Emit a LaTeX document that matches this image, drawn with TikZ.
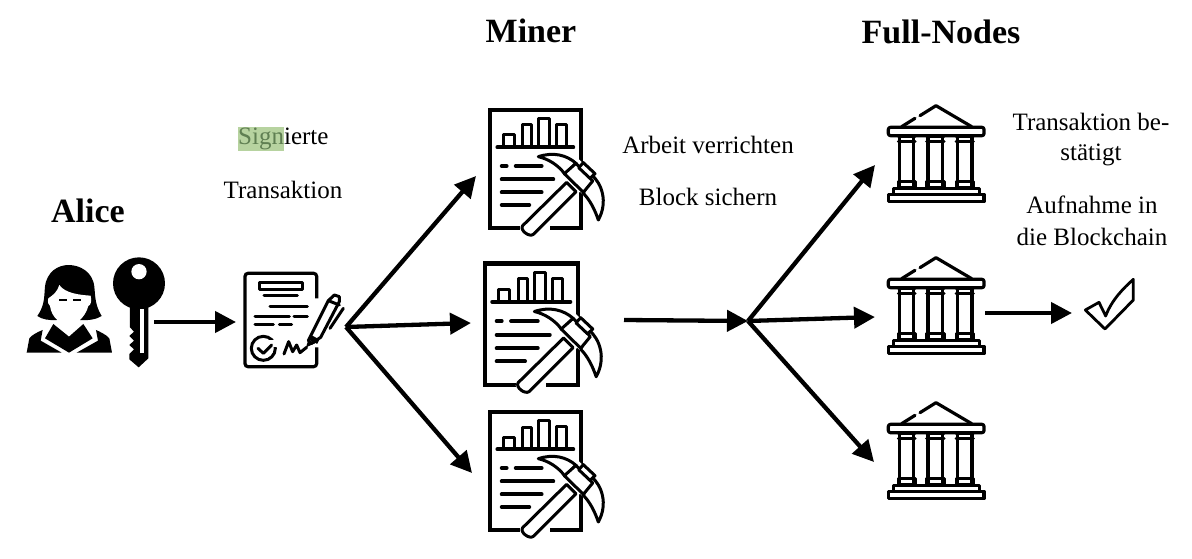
\documentclass[tikz,border=0pt]{standalone}
\usepackage{fontspec}
\setmainfont{Liberation Serif}
\usetikzlibrary{arrows.meta}
\definecolor{markgreen}{HTML}{B7D3A0}
\definecolor{marktext}{HTML}{5F7F52}
\tikzset{
  x=1pt,y=-1pt,
  flow/.style={line width=4.3pt,-{Triangle[length=21pt,width=21pt]}},
  body/.style={font=\fontsize{25}{29}\selectfont,inner sep=0pt,anchor=center},
  head/.style={font=\fontsize{34}{38}\selectfont\bfseries,inner sep=0pt,anchor=center},
  ln/.style={line width=3.8pt,line cap=round,line join=round},
  lnthin/.style={line width=3pt,line cap=round,line join=round},
  lnbank/.style={line width=3.2pt,line cap=round,line join=round},
  minericon/.pic={
    \begin{scope}[xscale=1/3,yscale=1/3]
      \draw[line width=4.2pt,line join=miter] (150,400)--(60,400)--(60,45)--(333,45)--(333,400)--(240,400);
      \draw[ln] (82,157)--(310,157);
      \draw[lnthin] (100,157)--(100,120)--(133,120)--(133,157);
      \draw[lnthin] (158,157)--(158,90)--(185,90)--(185,157);
      \draw[lnthin] (205,157)--(205,70)--(238,70)--(238,157);
      \draw[lnthin] (258,157)--(258,88)--(288,88)--(288,157);
      \draw[ln] (95,213)--(110,213) (137,213)--(215,213) (95,253)--(250,253) (95,292)--(215,292) (95,330)--(178,330);
      \fill[white] (150,400) -- (190,430) -- (400,220) -- (360,180) -- cycle;
      \fill[white] (205,165)--(300,165)--(420,290)--(395,385)--(340,300)--cycle;
      \draw[lnthin,fill=white] (158,392)--(290,262)--(318,290)--(190,418) .. controls (178,428) and (148,405) .. (158,392)--cycle;
      \draw[lnthin,fill=white] (205,185) .. controls (250,170) and (290,180) .. (318,205) -- (285,238) .. controls (265,210) and (235,192) .. (205,185) -- cycle;
      \draw[lnthin,fill=white] (385,375) .. controls (415,320) and (395,265) .. (365,240) -- (340,295) .. controls (360,315) and (375,345) .. (385,375) -- cycle;
      \draw[lnthin,fill=white] (318,205)--(368,258)--(340,292)--(283,236)--cycle;
      \draw[lnthin,fill=white] (340,203)--(375,236)--(360,250)--(326,218)--cycle;
    \end{scope}
  },
  bankicon/.pic={
    \begin{scope}[xscale=1/3,yscale=1/3]
      \draw[lnbank] (95,95)--(135,70) (150,62)--(198,32)--(305,95);
      \draw[lnbank,rounded corners=2pt] (55,97) rectangle (342,122);
      \foreach \a/\b in {85/135,170/222,258/310}{
        \draw[lnthin] (\a,125) -- (\b,125);
        \draw[lnthin] (\a,140) -- (\b,140);
        \draw[lnbank] ({\a+4},125)--({\a+4},278) ({\b-4},125)--({\b-4},278);
        \draw[lnthin] (\a,260) rectangle (\b,278);
      }
      \draw[lnbank] (70,280) rectangle (328,298);
      \draw[lnbank] (55,298) rectangle (342,320);
    \end{scope}
  },
  personicon/.pic={
    \begin{scope}[xscale=1/3,yscale=1/3]
      \fill (112,258) .. controls (135,225) and (132,200) .. (135,170) .. controls (140,125) and (175,105) .. (205,105) .. controls (240,105) and (278,125) .. (283,170) .. controls (286,200) and (285,225) .. (305,258) .. controls (290,268) and (265,272) .. (240,270) -- (170,270) .. controls (150,272) and (125,268) .. (112,258) -- cycle;
      \fill[white] (145,205) .. controls (160,195) and (172,185) .. (178,165) .. controls (195,190) and (240,195) .. (272,197) .. controls (276,215) and (272,225) .. (265,228) .. controls (255,265) and (225,285) .. (207,285) .. controls (185,285) and (155,265) .. (150,228) .. controls (143,225) and (143,215) .. (145,205) -- cycle;
      \draw[line width=1.9pt] (178,209)--(200,209) (220,209)--(243,209);
      \fill (80,368)--(88,325) .. controls (95,315) and (115,305) .. (128,300)--(122,332)--(185,368)--cycle;
      \fill (135,325)--(160,282)--(207,320)--(250,282)--(278,325)--(207,368)--cycle;
      \fill (336,368)--(328,325) .. controls (320,315) and (300,305) .. (288,300)--(294,332)--(230,368)--cycle;
    \end{scope}
  },
  keyicon/.pic={
    \begin{scope}[xscale=1/3,yscale=1/3]
      \fill (417,160) circle[radius=78];
      \fill (390,215)--(445,215)--(445,385)--(416,412)--(388,388)--(388,372)--(402,358)--(388,345)--(402,332)--(388,318)--(402,305)--(390,292)--cycle;
      \fill[white] (417,125) circle[radius=23];
      \fill[white] (421,238) rectangle (431,368);
    \end{scope}
  },
  docicon/.pic={
    \begin{scope}[xscale=1/3,yscale=1/3]
      \draw[line width=3.2pt,rounded corners=3pt] (950,205)--(950,130)--(735,130)--(735,410)--(950,410)--(950,352);
      \draw[lnthin] (778,158) rectangle (908,178);
      \draw[lnthin] (792,197)--(892,197) (810,231)--(922,231) (765,260)--(868,260) (882,260)--(922,260) (765,285)--(820,285) (838,285)--(875,285);
      \draw[lnthin] (790,355) circle[radius=36];
      \fill[white] (805,330) rectangle (830,350);
      \draw[lnthin] (774,355)--(790,370)--(815,345);
      \draw[lnthin] (852,372)--(866,335)--(878,365)--(890,345)--(900,368)--(920,352);
      \draw[lnthin,fill=white,line join=round] (935,340)--(925,332)--(985,212)--(1003,195)--(1018,200)--(1018,215)--(962,322)--cycle;
      \fill (918,352)--(925,330)--(945,340)--cycle;
      \draw[line width=5pt] (930,322)--(955,335);
      \draw[lnthin] (985,212)--(1018,225);
      \draw[lnthin] (1030,235)--(990,295);
    \end{scope}
  },
  checkicon/.pic={
    \begin{scope}[xscale=1/3,yscale=1/3]
      \draw[line width=2.8pt,line join=round] (76,150)--(117,127)--(137,168) .. controls (155,120) and (190,85) .. (220,58)--(220,120)--(135,207)--cycle;
    \end{scope}
  }
}
\begin{document}
\begin{tikzpicture}
\useasboundingbox (0,0) rectangle (1192,559);
% icons
\pic at (0,230) {personicon};
\pic at (0,230) {keyicon};
\pic at (0,230) {docicon};
\pic at (470,95) {minericon};
\pic[xscale=1.03,yscale=1.03] at (464,248) {minericon};
\pic at (470,397) {minericon};
\pic at (870,95) {bankicon};
\pic at (870,247) {bankicon};
\pic at (870,392) {bankicon};
\pic at (1060,260) {checkicon};
% headings
\node[head] (alice) at (88,211) {Alice};
\node[head] (miner) at (531,31) {Miner};
\node[head] (full) at (941,32) {Full-Nodes};
% labels
\node[body,anchor=west] (signed) at (238,139) {\fboxsep=0pt\colorbox{markgreen}{\vphantom{Sg}\smash{\color{marktext}Sign}\rule[-6pt]{0pt}{24pt}}ierte};
\node[body] (tx) at (283,190) {Transaktion};
\node[body] (work) at (708,145) {Arbeit verrichten};
\node[body] (block) at (708,197) {Block sichern};
\node[body] (conf1) at (1091,122) {Transaktion be-};
\node[body] (conf2) at (1091,155) {stätigt};
\node[body] (inc1) at (1092,205) {Aufnahme in};
\node[body] (inc2) at (1092,237) {die Blockchain};
% connector anchors
\coordinate (keyout) at (154,322);
\coordinate (docin) at (236,322);
\coordinate (txfork) at (346,327);
\coordinate (minerA) at (476,176);
\coordinate (minerB) at (471,323);
\coordinate (minerC) at (472,473);
\coordinate (minerout) at (624,320);
\coordinate (blockfork) at (748,321);
\coordinate (nodeA) at (875,165);
\coordinate (nodeB) at (875,317);
\coordinate (nodeC) at (874,462);
\coordinate (nodeout) at (985,313);
\coordinate (done) at (1072,313);
\draw[flow] (keyout)--(docin);
\draw[flow] (txfork)--(minerA);
\draw[flow] (txfork)--(minerB);
\draw[flow] (txfork)--(minerC);
\draw[flow] (minerout)--(blockfork);
\draw[flow] (blockfork)--(nodeA);
\draw[flow] (blockfork)--(nodeB);
\draw[flow] (blockfork)--(nodeC);
\draw[flow] (nodeout)--(done);
\end{tikzpicture}
\end{document}
